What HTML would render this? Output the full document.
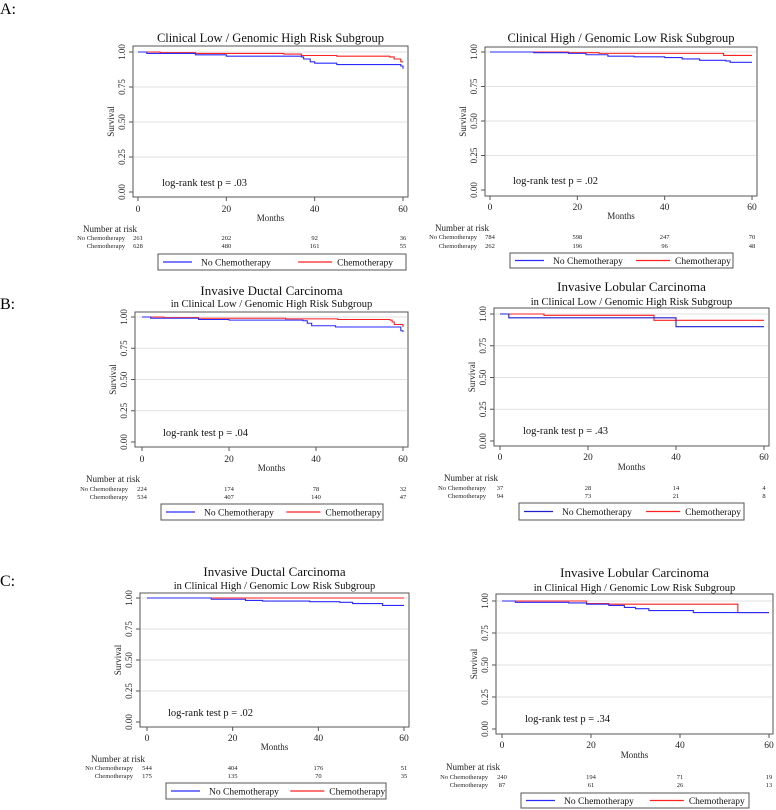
<!DOCTYPE html>
<html><head><meta charset="utf-8">
<style>
html,body{margin:0;padding:0;background:#fff;}
svg{display:block;font-family:"Liberation Serif","Times New Roman",serif;}
svg text{font-family:"Liberation Serif","Times New Roman",serif;}
</style></head>
<body>
<svg id="fig" width="776" height="810" viewBox="0 0 776 810" font-family="Liberation Serif, serif">
<text x="0" y="14" font-size="16">A:</text>
<text x="0" y="309" font-size="16">B:</text>
<text x="0" y="586" font-size="16">C:</text>
</svg>
<script>
// ---- data (months, survival) ----
const xTicks = [0, 20, 40, 60];
const yTicks = [0, 0.25, 0.5, 0.75, 1];
const yTickLabels = ["0.00", "0.25", "0.50", "0.75", "1.00"];

const aL_noT = [0, 2, 13, 20, 37, 37.5, 39, 40, 45, 59.5, 60];
const aL_noS = [1, 0.99, 0.98, 0.97, 0.965, 0.95, 0.93, 0.92, 0.91, 0.90, 0.88];
const aL_chT = [0, 5, 13, 33, 37, 45, 57, 58, 59.5, 60];
const aL_chS = [1, 0.995, 0.99, 0.985, 0.975, 0.97, 0.965, 0.95, 0.93, 0.93];
const aL_riskNo = [261, 202, 92, 36];
const aL_riskCh = [628, 480, 161, 55];

const aR_noT = [0, 10, 18, 22, 27, 33, 40, 44, 48, 54, 55, 60];
const aR_noS = [1, 0.995, 0.99, 0.98, 0.97, 0.965, 0.96, 0.95, 0.94, 0.935, 0.925, 0.925];
const aR_chT = [0, 18, 25, 53.5, 60];
const aR_chS = [1, 0.995, 0.99, 0.975, 0.975];
const aR_riskNo = [784, 598, 247, 70];
const aR_riskCh = [262, 196, 96, 48];

const bL_noT = [0, 2, 13, 20, 37, 38, 39, 44.5, 59.5, 60];
const bL_noS = [1, 0.99, 0.98, 0.975, 0.97, 0.95, 0.93, 0.92, 0.89, 0.88];
const bL_chT = [0, 5, 13, 33, 45, 57, 57.5, 58, 60];
const bL_chS = [1, 0.995, 0.99, 0.985, 0.98, 0.975, 0.96, 0.94, 0.92];
const bL_riskNo = [224, 174, 78, 32];
const bL_riskCh = [534, 407, 140, 47];

const bR_noT = [0, 2, 40, 60];
const bR_noS = [1, 0.97, 0.90, 0.90];
const bR_chT = [0, 10, 35, 60];
const bR_chS = [1, 0.99, 0.95, 0.95];
const bR_riskNo = [37, 28, 14, 4];
const bR_riskCh = [94, 73, 21, 8];

const cL_noT = [0, 15, 23, 27, 38, 45, 48, 55, 60];
const cL_noS = [1, 0.99, 0.98, 0.975, 0.97, 0.965, 0.955, 0.94, 0.94];
const cL_chT = [0, 60];
const cL_chS = [1, 1];
const cL_riskNo = [544, 404, 176, 51];
const cL_riskCh = [175, 135, 70, 35];

const cR_noT = [0, 3, 15, 19, 24, 27.5, 30, 33, 43, 60];
const cR_noS = [1, 0.99, 0.985, 0.975, 0.965, 0.95, 0.94, 0.925, 0.91, 0.91];
const cR_chT = [0, 19, 24, 53, 60];
const cR_chS = [1, 0.98, 0.975, 0.91, 0.91];
const cR_riskNo = [240, 194, 71, 19];
const cR_riskCh = [87, 61, 26, 13];

// ---- layout ----
const panels = [
 {id:"a-left", title:"Clinical Low / Genomic High Risk Subgroup", sub:null, titleY:42,
  fl:133,fr:408,ft:46,fb:197, x0:138,x60:403, y1:52,y0:192, tickY:212, monthsY:221, nY:232, r1:240, r2:248, labR:125,
  lg:[158,254,248,16], p:"log-rank test p = .03", px:162, py:186, blue:"#2a2aff",
  noT:aL_noT,noS:aL_noS,chT:aL_chT,chS:aL_chS,rNo:aL_riskNo,rCh:aL_riskCh},
 {id:"a-right", title:"Clinical High / Genomic Low Risk Subgroup", sub:null, titleY:42,
  fl:485,fr:757,ft:47,fb:196, x0:490,x60:752, y1:52,y0:190, tickY:210, monthsY:219, nY:231, r1:239, r2:248, labR:477,
  lg:[510,253,223,15], p:"log-rank test p = .02", px:513, py:184, blue:"#2a2aff",
  noT:aR_noT,noS:aR_noS,chT:aR_chT,chS:aR_chS,rNo:aR_riskNo,rCh:aR_riskCh},
 {id:"b-left", title:"Invasive Ductal Carcinoma", sub:"in Clinical Low / Genomic High Risk Subgroup", titleY:295, subY:307,
  fl:135,fr:408,ft:312,fb:447, x0:142,x60:403, y1:317,y0:442, tickY:462, monthsY:471, nY:482, r1:491, r2:499, labR:128,
  lg:[161,504,222,16], p:"log-rank test p = .04", px:163, py:436, blue:"#2a2aff",
  noT:bL_noT,noS:bL_noS,chT:bL_chT,chS:bL_chS,rNo:bL_riskNo,rCh:bL_riskCh},
 {id:"b-right", title:"Invasive Lobular Carcinoma", sub:"in Clinical Low / Genomic High Risk Subgroup", titleY:291, subY:305,
  fl:494,fr:769,ft:308,fb:446, x0:500,x60:764, y1:314,y0:441, tickY:460, monthsY:470, nY:481, r1:490, r2:498, labR:486,
  lg:[519,503,225,17], p:"log-rank test p = .43", px:523, py:434, blue:"#1f1fd0",
  noT:bR_noT,noS:bR_noS,chT:bR_chT,chS:bR_chS,rNo:bR_riskNo,rCh:bR_riskCh},
 {id:"c-left", title:"Invasive Ductal Carcinoma", sub:"in Clinical High / Genomic Low Risk Subgroup", titleY:576, subY:589,
  fl:140,fr:409,ft:593,fb:727, x0:147,x60:404, y1:598,y0:722, tickY:741, monthsY:750, nY:762, r1:770, r2:778, labR:133,
  lg:[166,783,220,16], p:"log-rank test p = .02", px:168, py:716, blue:"#2a2aff",
  noT:cL_noT,noS:cL_noS,chT:cL_chT,chS:cL_chS,rNo:cL_riskNo,rCh:cL_riskCh},
 {id:"c-right", title:"Invasive Lobular Carcinoma", sub:"in Clinical High / Genomic Low Risk Subgroup", titleY:577, subY:591,
  fl:496,fr:773,ft:594,fb:734, x0:502,x60:769, y1:601,y0:729, tickY:748, monthsY:758, nY:770, r1:779, r2:787, labR:488,
  lg:[521,793,228,15], p:"log-rank test p = .34", px:525, py:722, blue:"#2a2aff",
  noT:cR_noT,noS:cR_noS,chT:cR_chT,chS:cR_chS,rNo:cR_riskNo,rCh:cR_riskCh}
];

const NS = "http://www.w3.org/2000/svg";
const svg = document.getElementById("fig");
function mk(tag, attrs, parent, text) {
  const e = document.createElementNS(NS, tag);
  for (const k in attrs) e.setAttribute(k, attrs[k]);
  if (tag === "text") e.setAttribute("font-family", "Liberation Serif, serif");
  if (text !== undefined) e.textContent = text;
  parent.appendChild(e);
  return e;
}
function stepPath(ts, ss, xs, ys) {
  let d = "M" + xs(ts[0]) + "," + ys(ss[0]);
  for (let i = 1; i < ts.length; i++) {
    d += " H" + xs(ts[i]) + " V" + ys(ss[i]);
  }
  return d;
}

panels.forEach(P => {
  const g = mk("g", {}, svg);
  
  
  const xs = v => P.x0 + (v / 60) * (P.x60 - P.x0);
  const ys = v => P.y0 - v * (P.y0 - P.y1);
  const cx = (P.fl + P.fr) / 2;

  const t = mk("text", {x: cx, y: P.titleY, "font-size": P.sub ? 13 : 12.5, "text-anchor": "middle", fill: "#111"}, g, P.title);
  
  
  if (P.sub) {
    const s = mk("text", {x: cx, y: P.subY, "font-size": 10.5, "text-anchor": "middle", fill: "#111"}, g, P.sub);
    
    
  }
  const frame = mk("rect", {x: P.fl, y: P.ft, width: P.fr - P.fl, height: P.fb - P.ft, fill: "#fff", stroke: "#555", "stroke-width": 1}, g);
  
  

  yTicks.forEach((v, i) => {
    const y = ys(v);
    if (v > 0) {
      const gl = mk("line", {x1: P.fl + 1, x2: P.fr - 1, y1: y, y2: y, stroke: "#e2e2e2", "stroke-width": 1}, g);
      
      
    }
    mk("line", {x1: P.fl - 4, x2: P.fl, y1: y, y2: y, stroke: "#555"}, g);
    const tl = mk("text", {x: P.fl - 8, y: y, "font-size": 9, "text-anchor": "middle", transform: "rotate(-90 " + (P.fl - 8) + " " + y + ")", fill: "#222"}, g, yTickLabels[i]);
    
    
  });
  const yt = mk("text", {x: P.fl - 19, y: (P.ft + P.fb) / 2, "font-size": 9, "text-anchor": "middle", transform: "rotate(-90 " + (P.fl - 19) + " " + (P.ft + P.fb) / 2 + ")", fill: "#222"}, g, "Survival");
  
  

  xTicks.forEach(v => {
    const x = xs(v);
    mk("line", {x1: x, x2: x, y1: P.fb, y2: P.fb + 4, stroke: "#555"}, g);
    const xl = mk("text", {x: x, y: P.tickY, "font-size": 9.5, "text-anchor": "middle", fill: "#222"}, g, String(v));
    
    
  });
  const xt = mk("text", {x: cx, y: P.monthsY, "font-size": 9, "text-anchor": "middle", fill: "#222"}, g, "Months");
  
  

  const red = mk("path", {d: stepPath(P.chT, P.chS, xs, ys), fill: "none", stroke: "#ff2020", "stroke-width": 1.1}, g);
  
  
  const blue = mk("path", {d: stepPath(P.noT, P.noS, xs, ys), fill: "none", stroke: P.blue, "stroke-width": 1.1}, g);
  
  

  const pt = mk("text", {x: P.px, y: P.py, "font-size": 10.5, fill: "#111"}, g, P.p);
  
  

  const nr = mk("text", {x: P.labR - 42, y: P.nY, "font-size": 9, fill: "#222"}, g, "Number at risk");
  
  
  const l1 = mk("text", {x: P.labR, y: P.r1, "font-size": 6.5, "text-anchor": "end", fill: "#222"}, g, "No Chemotherapy");
  
  
  const l2 = mk("text", {x: P.labR, y: P.r2, "font-size": 6.5, "text-anchor": "end", fill: "#222"}, g, "Chemotherapy");
  
  
  xTicks.forEach((v, i) => {
    const a = mk("text", {x: xs(v), y: P.r1, "font-size": 6.5, "text-anchor": "middle", fill: "#222"}, g, String(P.rNo[i]));
    
    
    const b = mk("text", {x: xs(v), y: P.r2, "font-size": 6.5, "text-anchor": "middle", fill: "#222"}, g, String(P.rCh[i]));
    
    
  });

  const [lx, ly, lw, lh] = P.lg;
  const lgG = mk("g", {}, g);
  
  
  mk("rect", {x: lx, y: ly, width: lw, height: lh, fill: "#fff", stroke: "#555", "stroke-width": 1}, lgG);
  const my = ly + lh / 2;
  mk("line", {x1: lx + 5, x2: lx + 34, y1: my, y2: my, stroke: P.blue, "stroke-width": 1.2}, lgG);
  const e1 = mk("text", {x: lx + 43, y: my + 3.5, "font-size": 9.5, fill: "#111"}, lgG, "No Chemotherapy");
  
  
  const mx = lx + lw * 0.565;
  mk("line", {x1: mx, x2: mx + 34, y1: my, y2: my, stroke: "#ff2020", "stroke-width": 1.2}, lgG);
  const e2 = mk("text", {x: mx + 39, y: my + 3.5, "font-size": 9.5, fill: "#111"}, lgG, "Chemotherapy");
  
  
});
</script>
</body></html>
